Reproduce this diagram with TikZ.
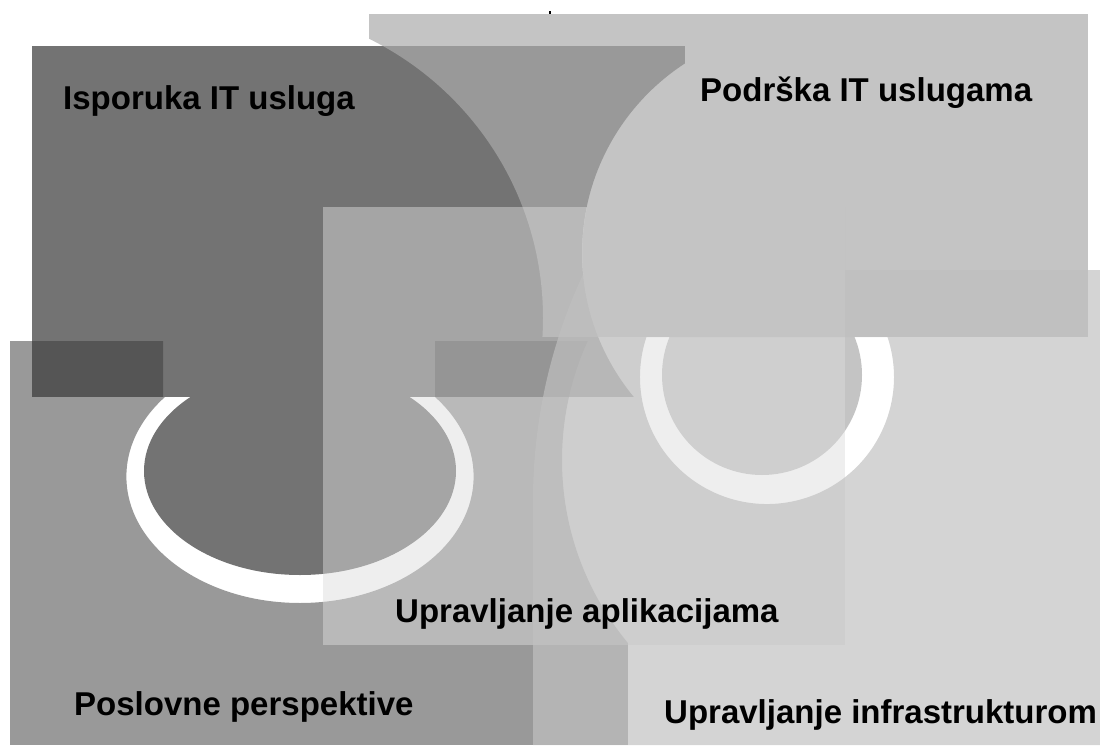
\documentclass[tikz,border=0pt]{standalone}
\usepackage{fontspec}
\setmainfont{Liberation Sans}
\definecolor{cA}{gray}{0.451}
\definecolor{cB}{gray}{0.666}
\definecolor{cC}{gray}{0.861}
\definecolor{cD}{gray}{0.222}
\definecolor{cE}{gray}{0.754}
\tikzset{
  pieceA/.style={fill=cA},
  pieceB/.style={fill=cB, fill opacity=0.693},
  pieceC/.style={fill=cC, fill opacity=0.48},
  pieceD/.style={fill=cD, fill opacity=0.514},
  pieceE/.style={fill=cE, fill opacity=0.686},
  lbl/.style={text=black, inner sep=0pt, anchor=base west, font=\bfseries\fontsize{33}{36}\selectfont}
}
\begin{document}
\begin{tikzpicture}[x=1pt,y=-1pt]
\useasboundingbox (0,0) rectangle (1100,749);
% A : Isporuka IT usluga
\begin{scope}[even odd rule]
  \clip (0,0) rectangle (1100,749) (808,253) circle[radius=226];
  \fill[pieceA] (32,46) rectangle (685,397);
\end{scope}
\fill[pieceA] (300,471) ellipse[x radius=156, y radius=104];
% B : Podrska IT uslugama
\begin{scope}[even odd rule]
  \clip (0,0) rectangle (1100,749) (232,318) circle[radius=311];
  \fill[pieceB] (369,14) rectangle (1088,337);
\end{scope}
\begin{scope}
  \clip (0,337) rectangle (1100,749);
  \fill[pieceB] (762,375) circle[radius=100];
\end{scope}
% D : Poslovne perspektive
\begin{scope}[even odd rule]
  \clip (0,0) rectangle (1100,749) (163,330) rectangle (435,397);
  \clip (0,0) rectangle (1100,749) (300,476.5) ellipse[x radius=173.6, y radius=126.5];
  \clip (0,0) rectangle (1100,749) (849,460) circle[radius=287];
  \fill[pieceD] (10,341) rectangle (628,745);
\end{scope}
% C : Upravljanje aplikacijama
\fill[pieceC] (323,207) rectangle (845,645);
% E : Upravljanje infrastrukturom
\begin{scope}[even odd rule]
  \clip (0,0) rectangle (1100,749) (887.5,337) arc[start angle=-18.36, end angle=198.36, radius=127] -- cycle;
  \fill[pieceE] (533,745) -- (533,500)
     arc[start angle=180, end angle=205.09, radius=533]
     arc[start angle=174.67, end angle=191.74, radius=226]
     -- (845,207) -- (845,270) -- (1100,270) -- (1100,745) -- cycle;
\end{scope}
% stray mark
\fill[black] (549,11) rectangle (551,14);
% labels
\node[lbl] (isporuka) at (63,110) {Isporuka IT usluga};
\node[lbl] (podrska) at (700,102) {Podrška IT uslugama};
\node[lbl] (aplik) at (395,622) {Upravljanje aplikacijama};
\node[lbl] (poslovne) at (74,715) {Poslovne perspektive};
\node[lbl] (infra) at (664,723) {Upravljanje infrastrukturom};
\end{tikzpicture}
\end{document}
